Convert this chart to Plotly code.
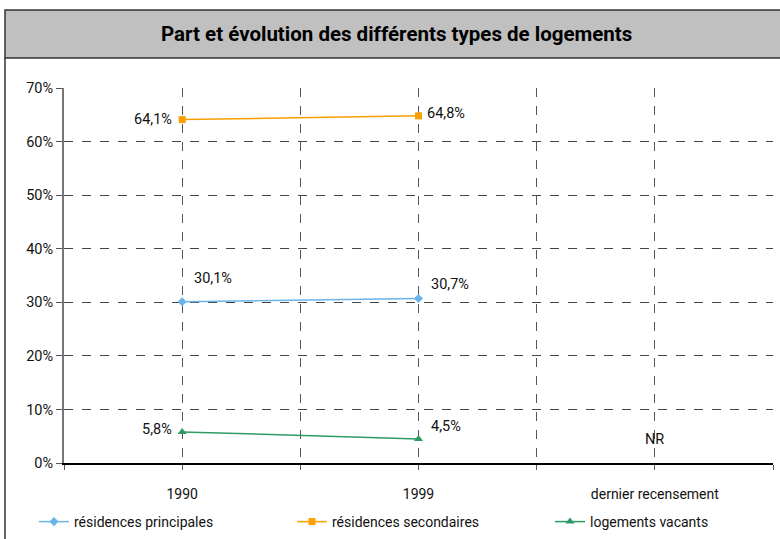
import plotly.graph_objects as go

# --- data ---
categories = ["1990", "1999", "dernier recensement"]
principales = [30.1, 30.7, None]
secondaires = [64.1, 64.8, None]
vacants = [5.8, 4.5, None]
nr_label = "NR"
nr_value = 4.3

W, H = 780, 539
L, R, T, B = 64, 7, 88, 76
FONT = "Roboto, Liberation Sans, sans-serif"


def px_x(p):
    return (p - L) / (W - L - R)


def px_y(p):
    return (H - B - p) / (H - T - B)


def fr(v):
    return f"{v:.1f}".replace(".", ",") + "%"


xs = list(range(len(categories)))

series = [
    ("résidences principales", principales, "#6ab4e8", "diamond", 7),
    ("résidences secondaires", secondaires, "#f7a000", "square", 7),
    ("logements vacants", vacants, "#2e9b66", "triangle-up", 8),
]

fig = go.Figure()
for name, vals, color, symbol, size in series:
    fig.add_trace(
        go.Scatter(
            x=xs,
            y=vals,
            mode="lines+markers",
            name=name,
            line=dict(color=color, width=1.5),
            marker=dict(color=color, symbol=symbol, size=size),
            cliponaxis=False,
        )
    )

# value labels: (series, index, xanchor, xshift, yshift)
label_pos = [
    (secondaires, 0, "right", -8, 0),
    (secondaires, 1, "left", 6, 2),
    (principales, 0, "left", 10, 23),
    (principales, 1, "left", 10, 14),
    (vacants, 0, "right", -8, 2),
    (vacants, 1, "left", 10, 12),
]
annotations = []
for vals, i, anchor, dx, dy in label_pos:
    annotations.append(dict(
        x=xs[i], y=vals[i], text=fr(vals[i]), showarrow=False,
        xanchor=anchor, yanchor="middle", xshift=dx, yshift=dy,
        font=dict(size=14.5, color="#111"),
    ))
annotations.append(dict(
    x=xs[2], y=nr_value, text=nr_label, showarrow=False,
    font=dict(size=14.5, color="#111"),
))
annotations.append(dict(
    x=px_x(W / 2 + 6), y=px_y(34), xref="paper", yref="paper",
    xanchor="center", yanchor="middle",
    text="<b>Part et évolution des différents types de logements</b>",
    showarrow=False, font=dict(size=20.5, color="#000"),
))

shapes = [
    dict(type="rect", xref="paper", yref="paper",
         x0=px_x(5), x1=px_x(782), y0=px_y(58), y1=px_y(10),
         fillcolor="#c0c0c0", line=dict(color="#333", width=1.5), layer="below"),
    dict(type="line", xref="paper", yref="paper",
         x0=px_x(5), x1=px_x(5), y0=px_y(58), y1=px_y(545),
         line=dict(color="#333", width=1.5)),
]

fig.update_layout(
    width=W,
    height=H,
    margin=dict(l=L, r=R, t=T, b=B, autoexpand=False),
    paper_bgcolor="white",
    plot_bgcolor="white",
    font=dict(family=FONT, size=14, color="#111"),
    showlegend=True,
    legend=dict(
        orientation="h", x=px_x(34), y=px_y(522), xanchor="left", yanchor="middle",
        entrywidth=213, entrywidthmode="pixels", font=dict(size=14),
        bgcolor="rgba(0,0,0,0)", itemwidth=30,
    ),
    xaxis=dict(
        range=[-0.5, 2.5],
        tickvals=[-0.5, 0, 0.5, 1, 1.5, 2, 2.5],
        ticktext=["", categories[0], "", categories[1], "", categories[2], ""],
        showgrid=True, gridcolor="#555", griddash="dash", gridwidth=1,
        showline=True, linecolor="#000", linewidth=1.5,
        ticks="outside", ticklen=5, tickcolor="#555",
        zeroline=False, ticklabelstandoff=12,
    ),
    yaxis=dict(
        range=[0, 70], dtick=10, ticksuffix="%",
        showgrid=True, gridcolor="#444", griddash="dash", gridwidth=1,
        showline=True, linecolor="#777", linewidth=2,
        ticks="outside", ticklen=6, tickcolor="#555",
        zeroline=False, tickfont=dict(size=14.5),
    ),
    annotations=annotations,
    shapes=shapes,
)

fig.write_html(
    "out.html",
    config={"displayModeBar": False},
    post_script="document.body.style.margin='0';",
)
